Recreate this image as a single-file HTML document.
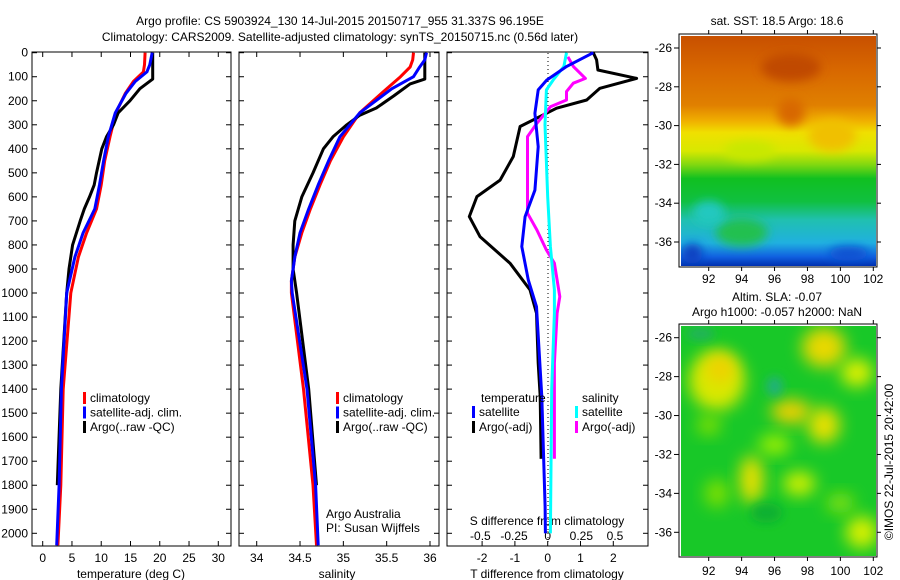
<!DOCTYPE html>
<html><head><meta charset="utf-8"><style>
body{margin:0;background:#fff}
svg{display:block;font-family:"Liberation Sans",sans-serif;font-size:12px}
</style></head><body>
<svg id="c" width="900" height="580" viewBox="0 0 900 580">
<defs>
<linearGradient id="sst" x1="0" y1="0" x2="0" y2="1">
<stop offset="0" stop-color="#c85000"/><stop offset="0.15" stop-color="#d86800"/>
<stop offset="0.3" stop-color="#e08000"/><stop offset="0.37" stop-color="#f0b000"/>
<stop offset="0.42" stop-color="#f0e000"/><stop offset="0.5" stop-color="#d8e800"/>
<stop offset="0.56" stop-color="#80d810"/><stop offset="0.62" stop-color="#10c020"/>
<stop offset="0.72" stop-color="#10c040"/><stop offset="0.8" stop-color="#20c0b0"/>
<stop offset="0.9" stop-color="#20b0e0"/><stop offset="0.96" stop-color="#1060e0"/>
<stop offset="1" stop-color="#0030b0"/></linearGradient>
<filter id="bl" x="-50%" y="-50%" width="200%" height="200%"><feGaussianBlur stdDeviation="8"/></filter>
<filter id="bl2" x="-50%" y="-50%" width="200%" height="200%"><feGaussianBlur stdDeviation="5"/></filter>
<clipPath id="m1"><rect x="681" y="36" width="195" height="230"/></clipPath>
<clipPath id="m2"><rect x="681" y="326" width="195" height="230"/></clipPath>
</defs>
<g id="root"></g>
</svg>
<script>
// ---------- data ----------
const tDepth = [0,50,80,120,170,250,350,450,550,650,750,850,1000,1400,1800,2050];
const tClim  = [17.5,17.4,17.2,15.5,14.1,12.5,11.5,10.6,10.0,9.2,7.5,6.1,4.8,3.5,3.1,2.6];
const tSat   = [18.7,18.3,17.8,15.8,14.2,12.4,11.2,10.4,9.7,8.9,6.9,5.5,4.1,3.2,2.8,2.4];
const argoDepth = [0,110,150,200,250,300,350,400,500,550,600,650,700,800,900,1000,1400,1800];
const tArgo  = [18.8,18.8,16.6,14.9,12.9,12.1,10.9,10.1,9.2,8.8,8.0,7.1,6.4,5.1,4.5,4.1,3.1,2.5];
const sDepth = [0,30,60,100,150,250,350,450,550,650,750,850,950,1000,1400,1800,2050];
const sClim  = [35.81,35.80,35.77,35.66,35.50,35.19,35.0,34.85,34.73,34.62,34.52,34.44,34.40,34.40,34.54,34.65,34.69];
const sSat   = [35.96,35.94,35.88,35.81,35.56,35.19,34.96,34.83,34.71,34.60,34.50,34.44,34.40,34.41,34.58,34.68,34.71];
const sArgoDepth = [0,110,130,180,230,260,300,350,400,500,600,700,800,900,1000,1400,1800];
const sArgo  = [35.94,35.94,35.77,35.58,35.38,35.19,35.04,34.88,34.77,34.65,34.52,34.44,34.42,34.42,34.46,34.60,34.69];
const dtArgoDepth = [0,30,72,107,148,197,231,307,432,530,599,682,766,876,987,1084,1292,1431,1690];
const dtArgo = [1.39,1.49,1.53,2.71,1.59,1.19,0.27,-0.84,-1.05,-1.45,-2.16,-2.39,-2.06,-1.15,-0.54,-0.34,-0.29,-0.23,-0.20];
const dtSatDepth = [0,57,114,155,252,391,572,682,807,946,1057,1431,1889,2000];
const dtSat  = [1.39,0.58,-0.03,-0.29,-0.39,-0.29,-0.39,-0.69,-0.79,-0.59,-0.34,-0.18,-0.08,-0.07];
const dsSatDepth = [0,57,114,155,300,600,807,987,1084,1400,2000];
const dsSat  = [0.14,0.12,0.04,-0.01,-0.02,0.0,0.02,0.05,0.05,0.03,0.02];
const dsArgoDepth = [17,57,107,127,162,197,225,294,349,572,668,738,821,876,1015,1084,1292,1690];
const dsArgo = [0.15,0.19,0.28,0.19,0.14,0.14,0.02,-0.08,-0.15,-0.15,-0.15,-0.08,-0.01,0.05,0.09,0.07,0.05,0.05];
const depthTicks = [0,100,200,300,400,500,600,700,800,900,1000,1100,1200,1300,1400,1500,1600,1700,1800,1900,2000];
const tTicks = [0,5,10,15,20,25,30];
const sTicks = [34,34.5,35,35.5,36];
const sTickLabels = ["34","34.5","35","35.5","36"];
const dtTicks = [-2,-1,0,1,2];
const dsTicks = [-0.5,-0.25,0,0.25,0.5];
const dsTickLabels = ["-0.5","-0.25","0","0.25","0.5"];
const lonTicks = [92,94,96,98,100,102];
const latTicks = [-26,-28,-30,-32,-34,-36];

// ---------- scales ----------
const yD = d => 52.7 + d*0.2403;
const xT = t => 42.7 + t*5.853;
const xS = s => 256.7 + (s-34)*86.65;
const xDT = t => 547.7 + t*32.8;
const xDS = s => 547.7 + s*134.6;
const xLon = l => 708.7 + (l-92)*16.46;
const yLat1 = a => 48 + (-26-a)*19.4;
const yLat2 = a => 337.7 + (-26-a)*19.46;

const NS="http://www.w3.org/2000/svg";
const root=document.getElementById('root');
function el(tag,attrs,parent){const e=document.createElementNS(NS,tag);for(const k in attrs)e.setAttribute(k,attrs[k]);(parent||root).appendChild(e);return e;}
function txt(x,y,s,anchor,parent){const t=el('text',{x:x,y:y,'text-anchor':anchor||'start',fill:'#000'},parent);t.textContent=s;return t;}

let t1=txt(340,25,"Argo profile: CS 5903924_130 14-Jul-2015 20150717_955 31.337S 96.195E","middle");


let t2=txt(340,41,"Climatology: CARS2009. Satellite-adjusted climatology: synTS_20150715.nc (0.56d later)","middle");



const panels=[[32,231],[239,439],[447,648]];
panels.forEach((p,i)=>{
  const r=el('rect',{x:p[0],y:52,width:p[1]-p[0],height:494,fill:'none',stroke:'#000','stroke-width':1});
  
  
  depthTicks.forEach(d=>{
    el('line',{x1:p[0],x2:p[0]+5,y1:yD(d),y2:yD(d),stroke:'#000'});
    el('line',{x1:p[1]-5,x2:p[1],y1:yD(d),y2:yD(d),stroke:'#000'});
  });
});
depthTicks.forEach(d=>{
  const t=txt(28,yD(d)+4,String(d),'end');
  
  
});
tTicks.forEach(v=>{el('line',{x1:xT(v),x2:xT(v),y1:546,y2:541,stroke:'#000'});el('line',{x1:xT(v),x2:xT(v),y1:52,y2:57,stroke:'#000'});
  const t=txt(xT(v),562,String(v),'middle');});
sTicks.forEach((v,i)=>{el('line',{x1:xS(v),x2:xS(v),y1:546,y2:541,stroke:'#000'});el('line',{x1:xS(v),x2:xS(v),y1:52,y2:57,stroke:'#000'});
  const t=txt(xS(v),562,sTickLabels[i],'middle');});
dtTicks.forEach(v=>{el('line',{x1:xDT(v),x2:xDT(v),y1:546,y2:541,stroke:'#000'});
  const t=txt(xDT(v),562,String(v),'middle');});
dsTicks.forEach((v,i)=>{
  const t=txt(xDS(v),540,dsTickLabels[i],'middle');});
let a1=txt(131,578,"temperature (deg C)","middle");
let a2=txt(337,578,"salinity","middle");
let a3=txt(547,578,"T difference from climatology","middle");
let a4=txt(547,525,"S difference from climatology","middle");
el('line',{x1:548,x2:548,y1:53,y2:545,stroke:'#000','stroke-dasharray':'1,3'});

function line(depths,vals,xf,color,name,w){
  const pts=depths.map((d,i)=>xf(vals[i]).toFixed(1)+','+yD(d).toFixed(1)).join(' ');
  const p=el('polyline',{points:pts,fill:'none',stroke:color,'stroke-width':w||3,'stroke-linejoin':'round'});
  
  
}
line(tDepth,tClim,xT,'#f00','temp-climatology-line');
line(argoDepth,tArgo,xT,'#000','temp-argo-line');
line(tDepth,tSat,xT,'#00f','temp-satellite-line');
line(sDepth,sClim,xS,'#f00','sal-climatology-line');
line(sArgoDepth,sArgo,xS,'#000','sal-argo-line');
line(sDepth,sSat,xS,'#00f','sal-satellite-line');
line(dtArgoDepth,dtArgo,xDT,'#000','tdiff-argo-line');
line(dsArgoDepth,dsArgo,xDS,'#f0f','sdiff-argo-line');
line(dsSatDepth,dsSat,xDS,'#0ff','sdiff-satellite-line');
line(dtSatDepth,dtSat,xDT,'#00f','tdiff-satellite-line');

function leg(x,y,color,label,name){
  const g=el('g',{});
  
  
  el('rect',{x:x,y:y-10,width:3,height:12,fill:color},g);
  txt(x+7,y,label,'start',g);
}
[[ '#f00','climatology'],['#00f','satellite-adj. clim.'],['#000','Argo(..raw -QC)']].forEach((l,i)=>{
  leg(83,402+i*14.5,l[0],l[1],'legend-entry-temp-'+i);
  leg(336,402+i*14.5,l[0],l[1],'legend-entry-sal-'+i);
});
let lt=txt(481,402,"temperature");
let ls=txt(582,402,"salinity");
leg(472,416,'#00f','satellite','legend-entry-tdiff-satellite');
leg(472,431,'#000','Argo(-adj)','legend-entry-tdiff-argo');
leg(575,416,'#0ff','satellite','legend-entry-sdiff-satellite');
leg(575,431,'#f0f','Argo(-adj)','legend-entry-sdiff-argo');
let c1=txt(326,518,"Argo Australia");
let c2=txt(326,532,"PI: Susan Wijffels");

// maps
const g1=el('g',{'clip-path':'url(#m1)'});


el('rect',{x:681,y:36,width:195,height:230,fill:'url(#sst)'},g1);
el('ellipse',{cx:xLon(99.5),cy:yLat1(-30.5),rx:24,ry:16,fill:'#f0c000',filter:'url(#bl2)'},g1);
el('ellipse',{cx:xLon(97),cy:yLat1(-29.3),rx:14,ry:14,fill:'#d86800',filter:'url(#bl2)'},g1);
el('ellipse',{cx:xLon(97),cy:yLat1(-27),rx:30,ry:14,fill:'#c04800',filter:'url(#bl2)'},g1);
el('ellipse',{cx:xLon(94.5),cy:yLat1(-31.3),rx:26,ry:10,fill:'#c8e800',filter:'url(#bl2)'},g1);
el('ellipse',{cx:xLon(94),cy:yLat1(-35.5),rx:26,ry:14,fill:'#20c050',filter:'url(#bl2)'},g1);
el('ellipse',{cx:xLon(92),cy:yLat1(-34.5),rx:16,ry:12,fill:'#20c8c0',filter:'url(#bl2)'},g1);
el('ellipse',{cx:xLon(100.5),cy:yLat1(-36.6),rx:20,ry:7,fill:'#1050d0',filter:'url(#bl2)'},g1);
el('ellipse',{cx:xLon(91),cy:yLat1(-36.6),rx:10,ry:10,fill:'#1040c0',filter:'url(#bl2)'},g1);
el('rect',{x:679,y:34,width:198,height:233,fill:'none',stroke:'#000'});

const g2=el('g',{'clip-path':'url(#m2)'});


el('rect',{x:681,y:326,width:195,height:230,fill:'#18c828'},g2);
const blobs=[[92.5,-28.2,28,30,'#d8e800'],[92.7,-27.6,14,14,'#f0d000'],[99,-26.5,22,20,'#e8d800'],[97,-29.8,20,12,'#f0d000'],[99,-30.5,16,18,'#e8e000'],[94.6,-33.3,12,24,'#e8e000'],[97.5,-33.5,16,12,'#d0f000'],[101,-27.8,16,14,'#e0f000'],[101.3,-36,16,16,'#d8f000'],[96,-31.5,16,10,'#a0f000'],[92.5,-34,12,14,'#80e000'],[100,-34.5,14,10,'#80e010'],[92,-30.5,12,10,'#80e000']];
blobs.forEach(b=>el('ellipse',{cx:xLon(b[0]),cy:yLat2(b[1]),rx:b[2],ry:b[3],fill:b[4],filter:'url(#bl)'},g2));
el('ellipse',{cx:xLon(96),cy:yLat2(-28.5),rx:8,ry:10,fill:'#20b080',filter:'url(#bl2)'},g2);
el('ellipse',{cx:xLon(91.5),cy:yLat2(-25.8),rx:14,ry:6,fill:'#20b060',filter:'url(#bl2)'},g2);
el('ellipse',{cx:xLon(95.5),cy:yLat2(-35),rx:16,ry:10,fill:'#10b030',filter:'url(#bl2)'},g2);
el('rect',{x:679,y:324,width:198,height:233,fill:'none',stroke:'#000'});

[[yLat1,34,267,283],[yLat2,324,557,575]].forEach(m=>{
  latTicks.forEach(a=>{
    el('line',{x1:679,x2:674,y1:m[0](a),y2:m[0](a),stroke:'#000'});
    el('line',{x1:877,x2:881,y1:m[0](a),y2:m[0](a),stroke:'#000'});
    const t=txt(672,m[0](a)+4,String(a),'end');
  });
  lonTicks.forEach(l=>{
    el('line',{x1:xLon(l),x2:xLon(l),y1:m[2],y2:m[2]+4,stroke:'#000'});
    el('line',{x1:xLon(l),x2:xLon(l),y1:m[1],y2:m[1]-4,stroke:'#000'});
    const t=txt(xLon(l),m[3],String(l),'middle');
  });
});
let m1=txt(777,25,"sat. SST: 18.5 Argo: 18.6","middle");
let m2=txt(777,301,"Altim. SLA: -0.07","middle");
let m3=txt(777,316,"Argo h1000: -0.057 h2000: NaN","middle");
let cr=txt(0,0,"©IMOS 22-Jul-2015 20:42:00","middle");
cr.setAttribute('transform','translate(893,462) rotate(-90)');


</script>
</body></html>
